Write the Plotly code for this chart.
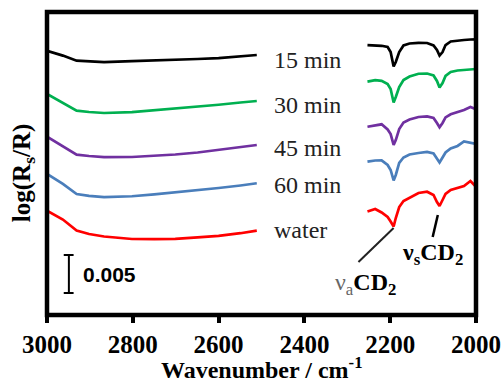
import plotly.graph_objects as go

# wavenumber grids (cm^-1) for the two measured windows
wn_left = [3000, 2963, 2931, 2902, 2867, 2802, 2750, 2701, 2649, 2600, 2549, 2511]
wn_right = [2253, 2235, 2220, 2206, 2199, 2192, 2187, 2179, 2169, 2155, 2134,
            2114, 2099, 2091, 2085, 2078, 2071, 2059, 2043, 2028, 2013, 2000]

labels = ["15 min", "30 min", "45 min", "60 min", "water"]
colors = ["#000000", "#00b050", "#7030a0", "#4a7ebb", "#ff0000"]

# log(Rs/R) values (offset spectra) - left window
min15_left = [0.03464, 0.03400, 0.03333, 0.03322, 0.03313, 0.03326, 0.03333, 0.03342, 0.03355, 0.03368, 0.03392, 0.03408]
min30_left = [0.02895, 0.02783, 0.02675, 0.02658, 0.02645, 0.02655, 0.02680, 0.02700, 0.02726, 0.02753, 0.02783, 0.02803]
min45_left = [0.02333, 0.02211, 0.02096, 0.02079, 0.02063, 0.02066, 0.02079, 0.02099, 0.02125, 0.02158, 0.02195, 0.02224]
min60_left = [0.01842, 0.01711, 0.01579, 0.01555, 0.01539, 0.01549, 0.01575, 0.01599, 0.01628, 0.01658, 0.01691, 0.01720]
water_left = [0.01359, 0.01243, 0.01099, 0.01053, 0.01020, 0.00987, 0.00984, 0.00989, 0.01007, 0.01029, 0.01063, 0.01096]

# right window (CD2 stretching region)
min15_right = [0.03539, 0.03533, 0.03529, 0.03513, 0.03447, 0.03257, 0.03316, 0.03447, 0.03533, 0.03559, 0.03568,
               0.03566, 0.03533, 0.03474, 0.03401, 0.03447, 0.03539, 0.03586, 0.03599, 0.03605, 0.03612, 0.03614]
min30_right = [0.03057, 0.03076, 0.03068, 0.03026, 0.02961, 0.02783, 0.02855, 0.02987, 0.03079, 0.03125, 0.03161,
               0.03164, 0.03138, 0.03066, 0.02980, 0.03039, 0.03132, 0.03184, 0.03204, 0.03211, 0.03220, 0.03224]
min45_right = [0.02464, 0.02487, 0.02496, 0.02428, 0.02368, 0.02224, 0.02289, 0.02434, 0.02520, 0.02559, 0.02592,
               0.02601, 0.02579, 0.02513, 0.02457, 0.02513, 0.02586, 0.02628, 0.02658, 0.02684, 0.02724, 0.02693]
min60_right = [0.02004, 0.02020, 0.02022, 0.01961, 0.01895, 0.01757, 0.01829, 0.01987, 0.02059, 0.02099, 0.02118,
               0.02132, 0.02112, 0.02046, 0.01993, 0.02059, 0.02125, 0.02178, 0.02211, 0.02270, 0.02257, 0.02237]
water_right = [0.01349, 0.01382, 0.01336, 0.01276, 0.01217, 0.01151, 0.01263, 0.01408, 0.01487, 0.01533, 0.01592,
               0.01609, 0.01566, 0.01474, 0.01421, 0.01500, 0.01579, 0.01632, 0.01664, 0.01684, 0.01750, 0.01675]

lefts = [min15_left, min30_left, min45_left, min60_left, water_left]
rights = [min15_right, min30_right, min45_right, min60_right, water_right]

x_ticks = [3000, 2800, 2600, 2400, 2200, 2000]
scale_value = 0.005

SERIF = "Liberation Serif, Times New Roman, serif"

fig = go.Figure()
for name, col, yl, yr in zip(labels, colors, lefts, rights):
    fig.add_trace(go.Scatter(
        x=wn_left + [None] + wn_right,
        y=yl + [None] + yr,
        mode="lines", name=name,
        line=dict(color=col, width=2.7),
        connectgaps=False, showlegend=False, hoverinfo="skip"))

# series labels
label_y = [0.03342, 0.02750, 0.02184, 0.01697, 0.01105]
for name, yy in zip(labels, label_y):
    fig.add_annotation(x=2476, y=yy, xref="x", yref="y", text=name, showarrow=False,
                       xanchor="left", yanchor="middle",
                       font=dict(family=SERIF, size=24, color="#222222"))

# scale bar
sb_x, sb_y0 = 2949, 0.00276
fig.add_shape(type="line", x0=sb_x, x1=sb_x, y0=sb_y0, y1=sb_y0 + scale_value,
              line=dict(color="black", width=2))
for yy in (sb_y0, sb_y0 + scale_value):
    fig.add_shape(type="line", x0=2961, x1=2938, y0=yy, y1=yy, line=dict(color="black", width=2))
fig.add_annotation(x=2921, y=sb_y0 + scale_value / 2, xref="x", yref="y", text="<b>%.3f</b>" % scale_value,
                   showarrow=False, xanchor="left", yanchor="middle",
                   font=dict(family="Liberation Sans, Arial, sans-serif", size=21, color="black"))

# peak assignment lines
fig.add_shape(type="line", x0=2192, y0=0.01132, x1=2274, y1=0.00684, line=dict(color="#222222", width=2))
fig.add_shape(type="line", x0=2089, y0=0.01303, x1=2101, y1=0.01013, line=dict(color="black", width=2.5))
fig.add_annotation(x=2258, y=0.00390, xref="x", yref="y",
                   text="<span style='color:#666666'>ν<sub>a</sub></span><b>CD<sub>2</sub></b>",
                   showarrow=False, xanchor="center", yanchor="middle",
                   font=dict(family=SERIF, size=24, color="black"))
fig.add_annotation(x=2101, y=0.00789, xref="x", yref="y",
                   text="<b>ν<sub>s</sub>CD<sub>2</sub></b>",
                   showarrow=False, xanchor="center", yanchor="middle",
                   font=dict(family=SERIF, size=24, color="black"))

# plot frame
fig.add_shape(type="rect", xref="paper", yref="paper", x0=0, x1=1, y0=0, y1=1,
              line=dict(color="black", width=4.5), fillcolor="rgba(0,0,0,0)", layer="above")

# axis titles
fig.add_annotation(x=0, y=0.468, xref="paper", yref="paper", xshift=-24,
                   text="<b>log(R<sub>s</sub>/R)</b>", textangle=-90, showarrow=False,
                   xanchor="center", yanchor="middle",
                   font=dict(family=SERIF, size=25, color="black"))
fig.add_annotation(x=0.5, y=-0.175, xref="paper", yref="paper",
                   text="<b>Wavenumber / cm<sup>-1</sup></b>", showarrow=False,
                   xanchor="center", yanchor="middle",
                   font=dict(family=SERIF, size=24, color="black"))

fig.update_xaxes(range=[3000, 2000], tickvals=x_ticks, ticktext=[str(t) for t in x_ticks],
                 showline=False, ticks="outside", ticklen=7, tickwidth=4, tickcolor="black",
                 showgrid=False, zeroline=False, automargin=False,
                 tickfont=dict(family=SERIF, size=25, color="black", weight="bold"))
fig.update_yaxes(range=[-0.000132, 0.039737], showline=False,
                 ticks="", showticklabels=False, showgrid=False, zeroline=False, automargin=False)

fig.update_layout(width=502, height=383, margin=dict(l=47, r=26, t=12, b=68, autoexpand=False),
                  plot_bgcolor="white", paper_bgcolor="white")

fig.write_html("out.html", config={"displayModeBar": False},
               post_script="document.body.style.margin='0px';")
